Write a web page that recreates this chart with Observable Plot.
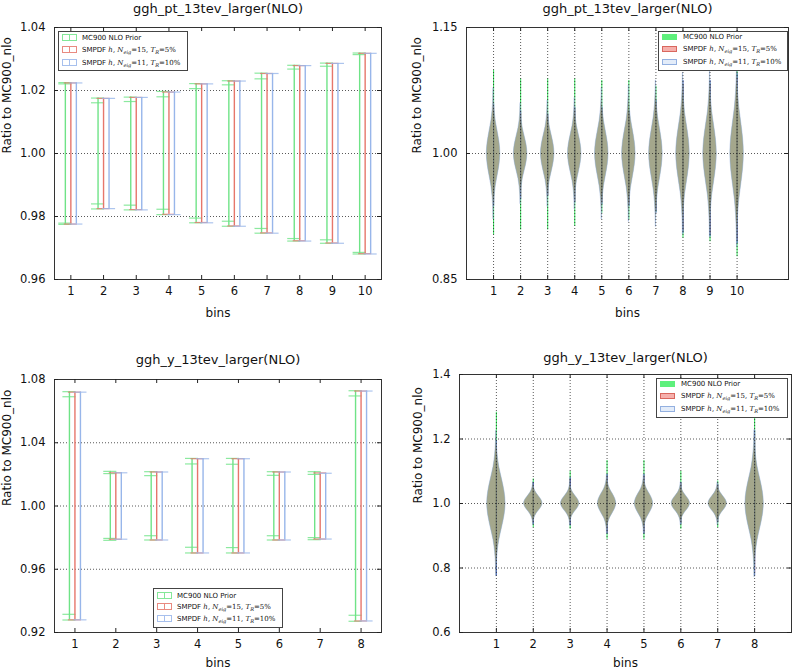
<!DOCTYPE html>
<html><head><meta charset="utf-8">
<script src="https://cdn.jsdelivr.net/npm/d3@7"></script>
<script src="https://cdn.jsdelivr.net/npm/@observablehq/plot@0.6"></script>
<style>
body{margin:0;background:#fff;}
#root{position:relative;width:793px;height:669px;overflow:hidden;font-family:"DejaVu Sans",sans-serif;background:#fff;}
.panel{position:absolute;}
.legend{position:absolute;background:#fff;border:1px solid #444;box-sizing:border-box;font-size:7px;color:#111;}
.row{position:absolute;left:0;height:10px;line-height:10px;white-space:nowrap;}
.row .txt{position:absolute;top:0;}
.eb{position:absolute;top:1px;width:15px;height:7px;box-sizing:border-box;border:1px solid var(--c);opacity:.85;}
.eb::after{content:"";position:absolute;left:6px;top:0;width:1px;height:100%;background:var(--c);}
.patch{position:absolute;top:2px;width:15px;height:6px;box-sizing:border-box;}
.m{font-family:"DejaVu Serif",serif;}
.m i{font-style:italic;}
.m sub{font-size:5px;vertical-align:-1.5px;line-height:0;font-style:italic;}
</style></head><body><div id="root"></div><script>
// ---------------- data ----------------
const ptBins = [1,2,3,4,5,6,7,8,9,10];
const yBins  = [1,2,3,4,5,6,7,8];

// ggh_pt error bars (ratio to MC900_nlo)
const ptPriorHi      = [1.0225,1.0176,1.0179,1.0197,1.0222,1.0231,1.0255,1.0280,1.0287,1.0319];
const ptPriorLo      = [0.9775,0.9824,0.9821,0.9806,0.9780,0.9769,0.9747,0.9722,0.9715,0.9681];
const ptPriorInnerHi = [1.0221,1.0161,1.0165,1.0180,1.0206,1.0218,1.0237,1.0268,1.0277,1.0314];
const ptPriorInnerLo = [0.9779,0.9840,0.9836,0.9823,0.9795,0.9785,0.9762,0.9730,0.9726,0.9686];
const ptSm15Hi       = [1.0224,1.0175,1.0178,1.0195,1.0221,1.0230,1.0254,1.0279,1.0286,1.0318];
const ptSm15Lo       = [0.9776,0.9825,0.9822,0.9807,0.9781,0.9770,0.9748,0.9723,0.9716,0.9682];
const ptSm11Hi       = [1.0224,1.0175,1.0178,1.0195,1.0221,1.0230,1.0254,1.0279,1.0286,1.0318];
const ptSm11Lo       = [0.9776,0.9825,0.9821,0.9806,0.9780,0.9769,0.9747,0.9722,0.9715,0.9681];

// ggh_y error bars
const yPriorHi      = [1.0723,1.0219,1.0217,1.0301,1.0301,1.0217,1.0217,1.0729];
const yPriorLo      = [0.9279,0.9783,0.9785,0.9703,0.9703,0.9785,0.9787,0.9271];
const yPriorInnerHi = [1.0691,1.0205,1.0192,1.0266,1.0264,1.0194,1.0200,1.0696];
const yPriorInnerLo = [0.9315,0.9795,0.9812,0.9739,0.9737,0.9812,0.9800,0.9309];
const ySm15Hi       = [1.0720,1.0210,1.0215,1.0299,1.0299,1.0215,1.0209,1.0727];
const ySm15Lo       = [0.9280,0.9790,0.9785,0.9703,0.9703,0.9785,0.9791,0.9273];
const ySm11Hi       = [1.0720,1.0210,1.0215,1.0299,1.0299,1.0215,1.0207,1.0727];
const ySm11Lo       = [0.9280,0.9790,0.9785,0.9703,0.9703,0.9785,0.9791,0.9273];

// violins: centre, body scale and tail tips
const ratioCentre = 1.0;
const violinK = [0, 0.5, 1, 1.5, 2, 2.5, 3];             // distance from centre, in body units
const violinW = [1, 0.88, 0.61, 0.32, 0.14, 0.05, 0.015]; // relative half-width
const ptVioBody      = [0.026,0.020,0.021,0.022,0.026,0.027,0.029,0.032,0.033,0.037];
const ptVioPriorTop  = [1.099,1.089,1.089,1.089,1.087,1.087,1.080,1.082,1.083,1.099];
const ptVioPriorBot  = [0.903,0.909,0.909,0.913,0.929,0.921,0.930,0.899,0.895,0.877];
const ptVioSm15Top   = [1.055,1.048,1.045,1.052,1.052,1.048,1.060,1.082,1.082,1.090];
const ptVioSm15Bot   = [0.940,0.947,0.950,0.943,0.941,0.940,0.932,0.908,0.904,0.896];
const ptVioSm11Top   = [1.059,1.051,1.047,1.055,1.055,1.051,1.063,1.087,1.087,1.095];
const ptVioSm11Bot   = [0.937,0.945,0.949,0.941,0.939,0.937,0.929,0.905,0.901,0.893];

const yVioBody       = [0.075,0.022,0.022,0.030,0.030,0.022,0.022,0.076];
const yVioPriorTop   = [1.283,1.076,1.100,1.133,1.133,1.100,1.070,1.272];
const yVioPriorBot   = [0.850,0.925,0.920,0.889,0.889,0.920,0.925,0.860];
const yVioSm15Top    = [1.185,1.062,1.075,1.085,1.085,1.062,1.057,1.215];
const yVioSm15Bot    = [0.785,0.939,0.933,0.908,0.908,0.938,0.943,0.785];
const yVioSm11Top    = [1.195,1.065,1.080,1.090,1.090,1.065,1.060,1.226];
const yVioSm11Bot    = [0.775,0.936,0.930,0.905,0.905,0.935,0.940,0.775];

const ptYTicks  = [0.96,0.98,1.00,1.02,1.04];
const yYTicks   = [0.92,0.96,1.00,1.04,1.08];
const ptVYTicks = [0.85,1.00,1.15];
const yVYTicks  = [0.6,0.8,1.0,1.2,1.4];

const titlePt = "ggh_pt_13tev_larger(NLO)";
const titleY  = "ggh_y_13tev_larger(NLO)";
const yLabel = "Ratio to MC900_nlo";
const xLabel = "bins";
const legendNames = ["MC900 NLO Prior",
  'SMPDF <span class="m"><i>h</i>, <i>N</i><sub>eig</sub>=15, <i>T</i><sub>R</sub>=5%</span>',
  'SMPDF <span class="m"><i>h</i>, <i>N</i><sub>eig</sub>=11, <i>T</i><sub>R</sub>=10%</span>'];

// ---------------- style ----------------
const cGreen = "#6fe387", cRed = "#e6766b", cBlue = "#98b6ea";
const gridStyle = {stroke: "#222", strokeOpacity: 0.75, strokeDasharray: "1,2"};
const root = document.getElementById("root");

function frameDecor({xTicks, yTicks, yFmt, innerW, innerH, title, titleDy, labelDy, ylabDx}) {
  return [
    Plot.frame({stroke: "#333", strokeWidth: 1}),
    Plot.tickX(xTicks, {x: d => d, insetTop: innerH - 4, stroke: "#222"}),
    Plot.tickX(xTicks, {x: d => d, insetBottom: innerH - 4, stroke: "#222"}),
    Plot.tickY(yTicks, {y: d => d, insetRight: innerW - 4, stroke: "#222"}),
    Plot.tickY(yTicks, {y: d => d, insetLeft: innerW - 4, stroke: "#222"}),
    Plot.axisX(xTicks, {anchor: "bottom", tickSize: 0, tickPadding: 7, fontSize: 11.5, label: null, tickFormat: d => String(d)}),
    Plot.axisY(yTicks, {anchor: "left", tickSize: 0, tickPadding: 9, fontSize: 11.5, label: null, tickFormat: d3.format(yFmt)}),
    Plot.text([title], {frameAnchor: "top", dy: titleDy, fontSize: 13, lineAnchor: "middle", text: d => d}),
    Plot.text([xLabel], {frameAnchor: "bottom", dy: labelDy, fontSize: 12, lineAnchor: "middle", text: d => d}),
    Plot.text([yLabel], {frameAnchor: "left", dx: ylabDx, rotate: -90, fontSize: 12, lineAnchor: "middle", text: d => d})
  ];
}

function addPanel(pos, plot) {
  plot.classList.add("panel");
  plot.style.left = pos.left + "px";
  plot.style.top = pos.top + "px";
  root.appendChild(plot);
}

function errorbarMarks(bins, series, capHalf) {
  const marks = [];
  for (const s of series) {
    const rows = bins.map((b, i) => ({bin: b, lo: s.lo[i], hi: s.hi[i], ilo: s.ilo ? s.ilo[i] : null, ihi: s.ihi ? s.ihi[i] : null}));
    const st = {stroke: s.color, dx: s.dx};
    marks.push(Plot.ruleX(rows, {x: "bin", y1: "lo", y2: "hi", strokeWidth: 1.4, ...st}));
    for (const k of (s.ilo ? ["hi", "lo", "ihi", "ilo"] : ["hi", "lo"])) {
      marks.push(Plot.ruleY(rows, {y: k, x1: d => d.bin - capHalf, x2: d => d.bin + capHalf, strokeWidth: 1.2, strokeOpacity: 0.8, ...st}));
    }
  }
  return marks;
}

function violinRows(bins, body, key) {
  const rows = [];
  bins.forEach((b, i) => {
    const s = body[i];
    for (let j = violinK.length - 1; j >= 0; j--) rows.push({key: key + b, bin: b, y: ratioCentre - violinK[j] * s, w: violinW[j] * 0.25});
    for (let j = 1; j < violinK.length; j++) rows.push({key: key + b, bin: b, y: ratioCentre + violinK[j] * s, w: violinW[j] * 0.25});
  });
  return rows;
}

function violinMarks(bins, body, series) {
  const marks = [];
  for (const s of series) {
    const tails = bins.map((b, i) => ({bin: b, lo: s.bot[i], hi: s.top[i]}));
    marks.push(Plot.ruleX(tails, {x: "bin", y1: "lo", y2: "hi", stroke: s.tail, strokeWidth: 1.1}));
  }
  for (const s of series) {
    marks.push(Plot.areaX(violinRows(bins, body, s.key), {
      y: "y", x1: d => d.bin - d.w, x2: d => d.bin + d.w, z: "key",
      fill: s.fill, fillOpacity: s.op, stroke: s.edge || "none", strokeWidth: 0.6, strokeOpacity: 0.7, curve: "catmull-rom"
    }));
  }
  return marks;
}

function legend({left, top, width, height, rows, kind}) {
  const d = document.createElement("div");
  d.className = "legend";
  Object.assign(d.style, {left: left + "px", top: top + "px", width: width + "px", height: height + "px"});
  const colors = [cGreen, cRed, cBlue];
  const patches = [
    {bg: "#5ef07c", bd: "#5ef07c"},
    {bg: "#f6b0ac", bd: "#d9675e"},
    {bg: "#e3ecf9", bd: "#93b0e0"}
  ];
  legendNames.forEach((name, i) => {
    const r = document.createElement("div");
    r.className = "row";
    r.style.top = rows[i] + "px";
    r.style.width = "100%";
    let icon;
    if (kind === "eb") icon = `<span class="eb" style="--c:${colors[i]};left:3px"></span>`;
    else icon = `<span class="patch" style="left:3px;background:${patches[i].bg};border:1px solid ${patches[i].bd}"></span>`;
    r.innerHTML = icon + `<span class="txt" style="left:${kind === "eb" ? 23 : 24}px">${name}</span>`;
    d.appendChild(r);
  });
  root.appendChild(d);
}

const vioSeries = (pTop, pBot, aTop, aBot, bTop, bBot) => [
  {key: "g", top: pTop, bot: pBot, fill: "#33c95a", op: 0.5, tail: "#47e46a"},
  {key: "r", top: aTop, bot: aBot, fill: "#cf4a44", op: 0.36, tail: "#d87070"},
  {key: "b", top: bTop, bot: bBot, fill: "#5a78b8", op: 0.1, tail: "#3d5cb0", edge: "#86a4dc"}
];

// ---------------- panel 1: ggh_pt error bars ----------------
{
  const width = 400, height = 330, m = {l: 54, r: 19, t: 27, b: 51};
  const plot = Plot.plot({
    width, height, marginLeft: m.l, marginRight: m.r, marginTop: m.t, marginBottom: m.b,
    style: {fontFamily: "DejaVu Sans, sans-serif", color: "#111", background: "transparent"},
    x: {domain: [0.5, 10.5]}, y: {domain: [0.96, 1.04]},
    marks: [
      Plot.gridY([0.98, 1.00, 1.02], gridStyle),
      ...errorbarMarks(ptBins, [
        {lo: ptPriorLo, hi: ptPriorHi, ilo: ptPriorInnerLo, ihi: ptPriorInnerHi, color: cGreen, dx: -5.5},
        {lo: ptSm15Lo, hi: ptSm15Hi, color: cRed, dx: 0},
        {lo: ptSm11Lo, hi: ptSm11Hi, color: cBlue, dx: 5.5}
      ], 0.2),
      ...frameDecor({xTicks: ptBins, yTicks: ptYTicks, yFmt: ".2f", innerW: width - m.l - m.r, innerH: height - m.t - m.b,
        title: titlePt, titleDy: -19, labelDy: 34, ylabDx: -47})
    ]
  });
  addPanel({left: 0, top: 0}, plot);
  legend({left: 58, top: 31, width: 130, height: 40, rows: [1, 13, 26], kind: "eb"});
}

// ---------------- panel 2: ggh_pt violins ----------------
{
  const width = 393, height = 330, m = {l: 66, r: 5, t: 27, b: 51};
  const plot = Plot.plot({
    width, height, marginLeft: m.l, marginRight: m.r, marginTop: m.t, marginBottom: m.b,
    style: {fontFamily: "DejaVu Sans, sans-serif", color: "#111", background: "transparent"},
    x: {domain: [0, 11.9]}, y: {domain: [0.85, 1.15]},
    marks: [
      ...violinMarks(ptBins, ptVioBody, vioSeries(ptVioPriorTop, ptVioPriorBot, ptVioSm15Top, ptVioSm15Bot, ptVioSm11Top, ptVioSm11Bot)),
      Plot.gridX(ptBins, gridStyle),
      Plot.gridY([1.00], gridStyle),
      ...frameDecor({xTicks: ptBins, yTicks: ptVYTicks, yFmt: ".2f", innerW: width - m.l - m.r, innerH: height - m.t - m.b,
        title: titlePt, titleDy: -19, labelDy: 34, ylabDx: -49})
    ]
  });
  addPanel({left: 400, top: 0}, plot);
  legend({left: 658, top: 31, width: 130, height: 40, rows: [0, 12, 25], kind: "patch"});
}

// ---------------- panel 3: ggh_y error bars ----------------
{
  const width = 400, height = 339, m = {l: 54, r: 19, t: 49, b: 37};
  const plot = Plot.plot({
    width, height, marginLeft: m.l, marginRight: m.r, marginTop: m.t, marginBottom: m.b,
    style: {fontFamily: "DejaVu Sans, sans-serif", color: "#111", background: "transparent"},
    x: {domain: [0.5, 8.5]}, y: {domain: [0.92, 1.08]},
    marks: [
      Plot.gridY([0.96, 1.00, 1.04], gridStyle),
      ...errorbarMarks(yBins, [
        {lo: yPriorLo, hi: yPriorHi, ilo: yPriorInnerLo, ihi: yPriorInnerHi, color: cGreen, dx: -5.5},
        {lo: ySm15Lo, hi: ySm15Hi, color: cRed, dx: 0},
        {lo: ySm11Lo, hi: ySm11Hi, color: cBlue, dx: 5.5}
      ], 0.16),
      ...frameDecor({xTicks: yBins, yTicks: yYTicks, yFmt: ".2f", innerW: width - m.l - m.r, innerH: height - m.t - m.b,
        title: titleY, titleDy: -20, labelDy: 31, ylabDx: -47})
    ]
  });
  addPanel({left: 0, top: 330}, plot);
  legend({left: 153, top: 588, width: 130, height: 40, rows: [2, 13, 25], kind: "eb"});
}

// ---------------- panel 4: ggh_y violins ----------------
{
  const width = 393, height = 339, m = {l: 59, r: 2, t: 44, b: 37};
  const plot = Plot.plot({
    width, height, marginLeft: m.l, marginRight: m.r, marginTop: m.t, marginBottom: m.b,
    style: {fontFamily: "DejaVu Sans, sans-serif", color: "#111", background: "transparent"},
    x: {domain: [0, 9]}, y: {domain: [0.6, 1.4]},
    marks: [
      ...violinMarks(yBins, yVioBody, vioSeries(yVioPriorTop, yVioPriorBot, yVioSm15Top, yVioSm15Bot, yVioSm11Top, yVioSm11Bot)),
      Plot.gridX(yBins, gridStyle),
      Plot.gridY([0.8, 1.0, 1.2], gridStyle),
      ...frameDecor({xTicks: yBins, yTicks: yVYTicks, yFmt: ".1f", innerW: width - m.l - m.r, innerH: height - m.t - m.b,
        title: titleY, titleDy: -17, labelDy: 31, ylabDx: -41})
    ]
  });
  addPanel({left: 400, top: 330}, plot);
  legend({left: 656, top: 378, width: 132, height: 40, rows: [0, 12, 25], kind: "patch"});
}
</script></body></html>
